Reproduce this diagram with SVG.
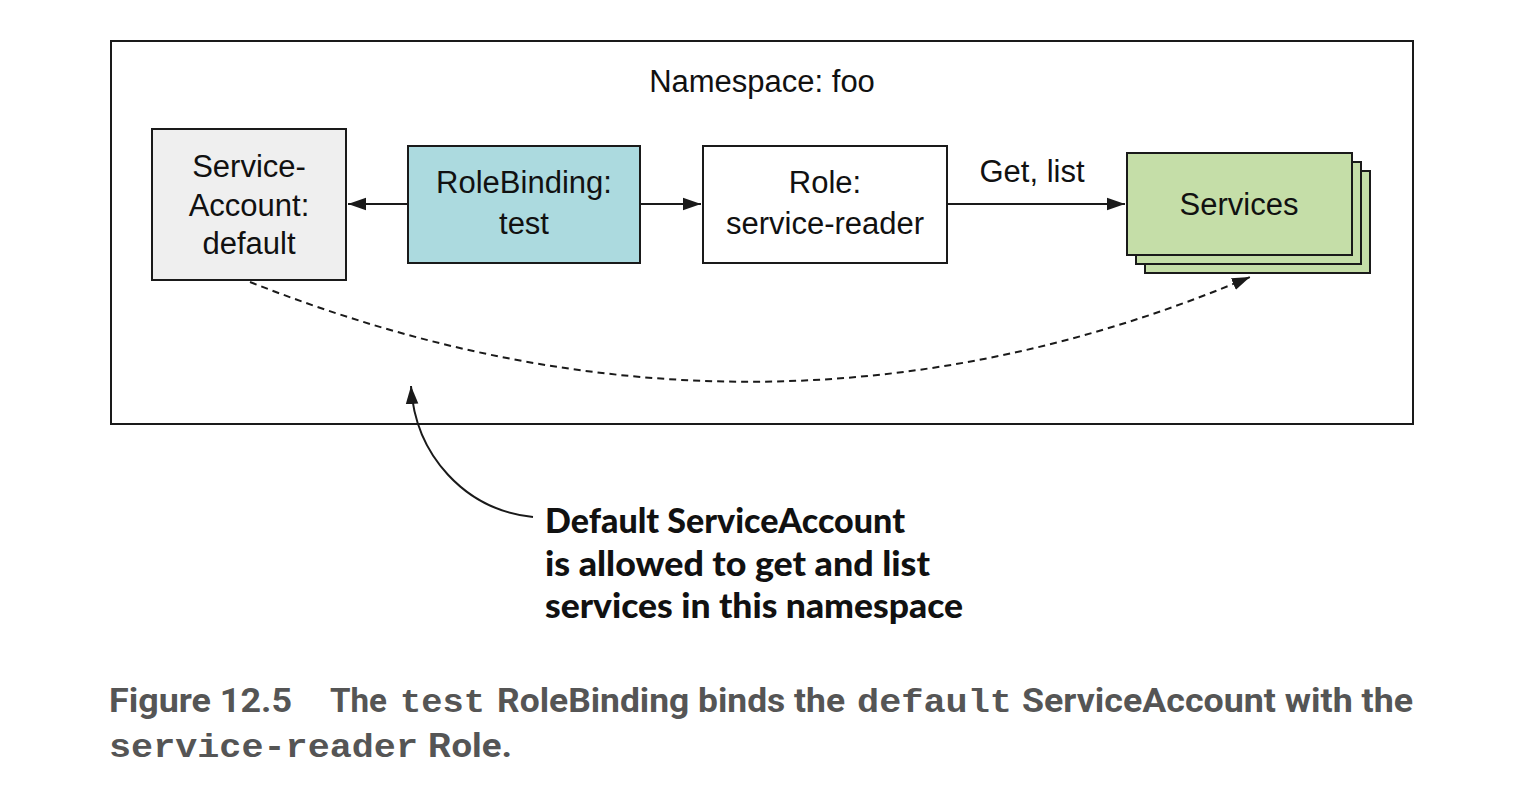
<svg xmlns="http://www.w3.org/2000/svg" width="1526" height="792" viewBox="0 0 1526 792">
<defs>
<style>
.box{stroke:#1a1a1a;stroke-width:2}
.lbl{font-family:"Liberation Sans",Arial,sans-serif;font-size:31px;fill:#111;text-anchor:middle}
.conn{stroke:#1a1a1a;stroke-width:2;fill:none}
.call{font-family:Lato,"Open Sans",sans-serif;font-weight:900;font-size:35px;fill:#111}
.cap{font-family:Roboto,"Liberation Sans",sans-serif;font-weight:bold;font-size:33px;fill:#555}
.mono{font-family:"Liberation Mono","Courier New",monospace;font-weight:bold;font-size:33px;fill:#555}
</style>
<marker id="ah" viewBox="0 0 10 10" refX="10" refY="5" markerWidth="18" markerHeight="18" markerUnits="userSpaceOnUse" orient="auto">
<path d="M0,1.5 L10,5 L0,8.5 Z" fill="#1a1a1a"/>
</marker>
</defs>
<rect width="1526" height="792" fill="#fff"/>
<g id="namespace">
<rect x="111" y="41" width="1302" height="383" fill="none" class="box"/>
<text x="762" y="92" class="lbl">Namespace: foo</text>
</g>
<g id="serviceaccount">
<rect x="152" y="129" width="194" height="151" fill="#efefef" class="box"/>
<text x="249" y="177" class="lbl">Service-</text>
<text x="249" y="216" class="lbl">Account:</text>
<text x="249" y="254" class="lbl">default</text>
</g>
<g id="rolebinding">
<rect x="408" y="146" width="232" height="117" fill="#acdadf" class="box"/>
<text x="524" y="193" class="lbl">RoleBinding:</text>
<text x="524" y="234" class="lbl">test</text>
</g>
<g id="role">
<rect x="703" y="146" width="244" height="117" fill="#fff" class="box"/>
<text x="825" y="193" class="lbl">Role:</text>
<text x="825" y="234" class="lbl">service-reader</text>
</g>
<g id="services">
<rect x="1145" y="171" width="225" height="102" fill="#c5dea8" class="box"/>
<rect x="1136" y="162" width="225" height="102" fill="#c5dea8" class="box"/>
<rect x="1127" y="153" width="225" height="102" fill="#c5dea8" class="box"/>
<text x="1239" y="215" class="lbl">Services</text>
</g>
<g id="connectors">
<line x1="408" y1="204" x2="348" y2="204" class="conn" marker-end="url(#ah)"/>
<line x1="640" y1="204" x2="701" y2="204" class="conn" marker-end="url(#ah)"/>
<line x1="947" y1="204" x2="1125" y2="204" class="conn" marker-end="url(#ah)"/>
<text x="1032" y="182" class="lbl">Get, list</text>
<path d="M250,282 Q760,484 1250,277" class="conn" stroke-dasharray="7,5" marker-end="url(#ah)"/>
<path d="M533,517 C465,510 415,455 411,386" class="conn" stroke-width="1.5" marker-end="url(#ah)"/>
</g>
<g id="callout">
<text x="545" y="533" class="call" textLength="360" lengthAdjust="spacingAndGlyphs">Default ServiceAccount</text>
<text x="545" y="576" class="call" textLength="385" lengthAdjust="spacingAndGlyphs">is allowed to get and list</text>
<text x="545" y="618" class="call" textLength="418" lengthAdjust="spacingAndGlyphs">services in this namespace</text>
</g>
<g id="caption">
<text x="109" y="712" class="cap" textLength="183" lengthAdjust="spacingAndGlyphs">Figure 12.5</text>
<text x="330" y="712" class="cap" textLength="57" lengthAdjust="spacingAndGlyphs">The</text>
<text x="400" y="712" class="mono" textLength="85" lengthAdjust="spacingAndGlyphs">test</text>
<text x="497" y="712" class="cap" textLength="348" lengthAdjust="spacingAndGlyphs">RoleBinding binds the</text>
<text x="857" y="712" class="mono" textLength="155" lengthAdjust="spacingAndGlyphs">default</text>
<text x="1022" y="712" class="cap" textLength="391" lengthAdjust="spacingAndGlyphs">ServiceAccount with the</text>
<text x="109" y="757" class="mono" textLength="309" lengthAdjust="spacingAndGlyphs">service-reader</text>
<text x="428" y="757" class="cap" textLength="84" lengthAdjust="spacingAndGlyphs">Role.</text>
</g>
</svg>
